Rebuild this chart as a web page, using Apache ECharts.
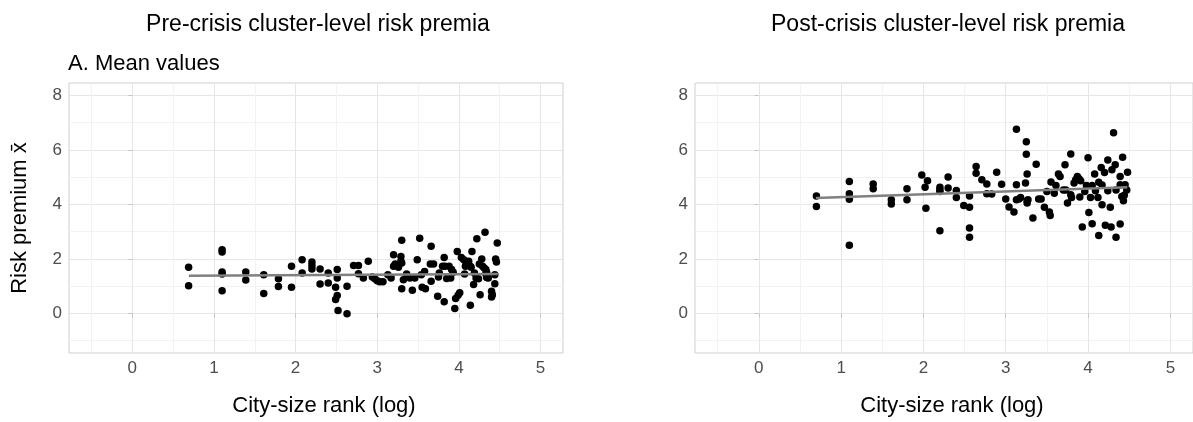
<!DOCTYPE html>
<html>
<head>
<meta charset="utf-8">
<script src="https://cdn.jsdelivr.net/npm/echarts@6/dist/echarts.min.js"></script>
<style>
  html, body { margin: 0; padding: 0; background: #fff; }
  #chart { width: 1193px; height: 422px; }
</style>
</head>
<body>
<div id="chart"></div>
<script>
// pre-crisis points: [log city-size rank, mean risk premium]
var preData = [
    [0.69,1.69],[0.69,1.02],
    [1.10,2.34],[1.10,2.25],[1.10,1.52],[1.10,1.45],[1.10,0.83],
    [1.39,1.52],[1.39,1.23],[1.61,1.42],[1.61,0.73],
    [1.79,1.27],[1.79,0.99],[1.95,1.73],[1.95,0.96],
    [2.08,1.97],[2.08,1.48],[2.20,1.89],[2.20,1.76],[2.20,1.63],
    [2.30,1.63],[2.30,1.08],[2.40,1.48],[2.40,1.12],
    [2.51,1.61],[2.51,1.30],[2.49,0.96],[2.51,0.66],[2.49,0.51],[2.52,0.11],
    [2.63,-0.01],[2.63,1.00],[2.71,1.76],[2.77,1.76],[2.77,1.46],
    [2.83,1.30],[2.89,1.91],[2.94,1.34],[2.97,1.27],[3.00,1.20],[3.03,1.16],[3.07,1.16],
    [3.13,1.42],[3.17,1.30],[3.20,2.15],[3.20,1.73],[3.22,1.81],[3.26,1.69],
    [3.29,1.91],[3.29,2.09],[3.30,2.68],[3.30,0.91],[3.30,1.85],
    [3.32,1.24],[3.36,1.45],[3.40,1.30],[3.46,1.30],[3.43,0.85],[3.49,1.97],[3.52,2.76],
    [3.54,1.42],[3.58,1.54],[3.55,0.96],[3.59,0.91],
    [3.66,2.46],[3.65,1.81],[3.69,1.81],[3.66,1.18],
    [3.74,0.63],[3.75,1.34],[3.76,1.48],
    [3.82,2.05],[3.82,0.43],[3.80,1.73],[3.83,1.73],[3.85,1.28],
    [3.88,1.73],[3.91,1.61],[3.93,1.51],[3.90,1.30],
    [3.95,0.18],[3.96,0.55],[3.99,0.67],[4.01,0.76],[3.98,2.27],
    [4.03,2.05],[4.06,1.97],[4.07,1.45],
    [4.09,1.81],[4.12,1.91],[4.14,1.73],[4.08,1.73],[4.15,1.69],
    [4.16,2.27],[4.14,0.30],[4.19,1.48],[4.21,1.30],[4.24,1.27],[4.18,1.06],
    [4.22,2.74],[4.26,0.69],[4.25,1.81],[4.28,2.00],[4.29,1.73],[4.31,1.67],[4.33,1.61],
    [4.32,2.98],[4.34,1.50],[4.33,1.45],[4.34,1.32],[4.36,1.30],
    [4.40,0.81],[4.41,0.69],[4.40,0.60],
    [4.44,1.09],[4.45,2.00],[4.46,1.89],[4.47,2.58],[4.44,1.42]
];

// post-crisis points
var postData = [
    [0.70,4.31],[0.70,3.92],
    [1.10,4.84],[1.10,4.39],[1.10,4.19],[1.10,2.50],
    [1.39,4.75],[1.39,4.57],[1.61,4.17],[1.61,4.01],
    [1.80,4.57],[1.80,4.17],
    [1.98,5.08],[2.02,4.63],[2.05,4.87],[2.03,3.86],
    [2.20,4.63],[2.20,4.53],[2.20,4.47],[2.20,3.03],
    [2.30,5.00],[2.30,4.60],[2.40,4.51],[2.40,4.25],[2.49,3.96],
    [2.56,4.31],[2.56,3.89],[2.56,3.13],[2.56,2.79],
    [2.64,5.39],[2.64,5.14],[2.71,4.90],[2.77,4.75],[2.77,4.39],[2.83,4.38],
    [2.89,5.18],[2.95,4.74],[3.00,4.20],[3.04,3.90],[3.10,3.72],
    [3.13,6.75],[3.13,4.72],[3.13,4.17],[3.16,4.20],[3.18,4.25],
    [3.25,6.30],[3.25,5.84],[3.26,5.11],[3.24,4.78],[3.26,4.13],[3.27,4.17],[3.26,4.05],
    [3.33,3.50],[3.37,5.47],[3.40,4.20],[3.43,4.20],[3.47,3.89],[3.50,4.47],
    [3.53,3.72],[3.54,3.59],[3.55,4.82],[3.59,4.41],[3.61,4.69],
    [3.64,5.11],[3.66,5.02],[3.70,4.53],[3.73,4.53],[3.72,5.45],[3.75,4.05],
    [3.79,5.85],[3.79,4.35],[3.80,4.25],
    [3.83,4.78],[3.85,4.90],[3.87,5.02],[3.89,4.94],[3.91,4.87],[3.90,4.27],
    [3.93,3.17],[3.96,4.47],[3.98,4.69],[4.00,5.71],[4.01,3.70],[4.03,4.25],[4.05,4.69],[4.05,3.29],
    [4.08,5.11],[4.09,4.50],[4.12,4.25],[4.13,4.81],[4.13,2.86],
    [4.16,5.35],[4.20,5.17],[4.17,4.71],[4.17,3.99],[4.21,3.23],
    [4.24,5.63],[4.24,4.50],[4.27,3.89],[4.28,3.17],[4.29,5.27],[4.31,6.63],[4.33,5.45],[4.34,4.53],[4.34,2.79],
    [4.39,5.02],[4.39,4.72],[4.39,3.28],[4.41,4.29],[4.44,4.33],[4.43,4.13],[4.42,5.73],[4.45,4.72],[4.47,4.53],[4.48,5.18]
];

// linear fit ends
var fitX = [0.693, 4.477];
var fitPre = [1.38, 1.45];
var fitPost = [4.23, 4.63];

var xTicks = [0, 1, 2, 3, 4, 5];
var xMinor = [-0.5, 0.5, 1.5, 2.5, 3.5, 4.5];
var yTicks = [0, 2, 4, 6, 8];
var yMinor = [-1, 1, 3, 5, 7];

var FONT = '"Liberation Sans", Arial, sans-serif';
var myChart = echarts.init(document.getElementById('chart'));

function mainX(g) {
    return {
        type: 'value', gridIndex: g, min: -0.775, max: 5.275, position: 'bottom',
        axisLine: { show: false },
        axisTick: { show: true, length: 4, customValues: xTicks, lineStyle: { color: '#c4c4c4' } },
        axisLabel: { customValues: xTicks, color: '#4d4d4d', fontSize: 17, margin: 7, fontFamily: FONT },
        splitLine: { show: true, lineStyle: { color: '#e6e6e6', width: 1 } },
        name: 'City-size rank (log)', nameLocation: 'middle', nameGap: 42,
        nameTextStyle: { fontSize: 22, color: '#000', fontFamily: FONT, padding: [0, 0, 0, 16] }
    };
}
function minorX(g) {
    return {
        type: 'value', gridIndex: g, min: -0.775, max: 5.275, position: 'top',
        axisLine: { show: false },
        axisTick: { show: false, customValues: xMinor },
        axisLabel: { show: false, customValues: xMinor },
        splitLine: { show: true, lineStyle: { color: '#f2f2f2', width: 1 } }
    };
}
function mainY(g, withName) {
    var a = {
        type: 'value', gridIndex: g, min: -1.45, max: 8.45, position: 'left',
        axisLine: { show: false },
        axisTick: { show: true, length: 4, customValues: yTicks, lineStyle: { color: '#c4c4c4' } },
        axisLabel: { customValues: yTicks, color: '#4d4d4d', fontSize: 17, margin: 7, fontFamily: FONT },
        splitLine: { show: true, lineStyle: { color: '#e6e6e6', width: 1 } }
    };
    if (withName) {
        a.name = 'Risk premium x\u0304';
        a.nameLocation = 'middle';
        a.nameGap = 38;
        a.nameTextStyle = { fontSize: 22, color: '#000', fontFamily: FONT };
    }
    return a;
}
function minorY(g) {
    return {
        type: 'value', gridIndex: g, min: -1.45, max: 8.45, position: 'right',
        axisLine: { show: false },
        axisTick: { show: false, customValues: yMinor },
        axisLabel: { show: false, customValues: yMinor },
        splitLine: { show: true, lineStyle: { color: '#f2f2f2', width: 1 } }
    };
}

var option = {
    animation: false,
    backgroundColor: '#fff',
    textStyle: { fontFamily: FONT },
    title: [
        { text: 'Pre-crisis cluster-level risk premia', left: 318, top: 13, padding: 0, textAlign: 'center',
          textStyle: { fontSize: 23, fontWeight: 'normal', color: '#000', fontFamily: FONT } },
        { text: 'Post-crisis cluster-level risk premia', left: 948, top: 13, padding: 0, textAlign: 'center',
          textStyle: { fontSize: 23, fontWeight: 'normal', color: '#000', fontFamily: FONT } },
        { text: 'A. Mean values', left: 68, top: 53, padding: 0,
          textStyle: { fontSize: 22, fontWeight: 'normal', color: '#000', fontFamily: FONT } }
    ],
    grid: [
        { left: 69, top: 83, width: 494, height: 270, show: true, borderColor: '#cfcfcf', borderWidth: 1, backgroundColor: '#fff' },
        { left: 695, top: 83, width: 500, height: 270, show: true, borderColor: '#cfcfcf', borderWidth: 1, backgroundColor: '#fff' }
    ],
    xAxis: [mainX(0), minorX(0), mainX(1), minorX(1)],
    yAxis: [mainY(0, true), minorY(0), mainY(1, false), minorY(1)],
    series: [
        { type: 'scatter', xAxisIndex: 0, yAxisIndex: 0, data: preData, symbolSize: 7.5,
          itemStyle: { color: '#000', opacity: 1 }, z: 2 },
        { type: 'line', xAxisIndex: 0, yAxisIndex: 0, showSymbol: false,
          data: [[fitX[0], fitPre[0]], [fitX[1], fitPre[1]]],
          lineStyle: { color: '#808080', width: 2.5 }, z: 3 },
        { type: 'scatter', xAxisIndex: 2, yAxisIndex: 2, data: postData, symbolSize: 7.5,
          itemStyle: { color: '#000', opacity: 1 }, z: 2 },
        { type: 'line', xAxisIndex: 2, yAxisIndex: 2, showSymbol: false,
          data: [[fitX[0], fitPost[0]], [fitX[1], fitPost[1]]],
          lineStyle: { color: '#808080', width: 2.5 }, z: 3 }
    ]
};
myChart.setOption(option);
</script>
</body>
</html>
